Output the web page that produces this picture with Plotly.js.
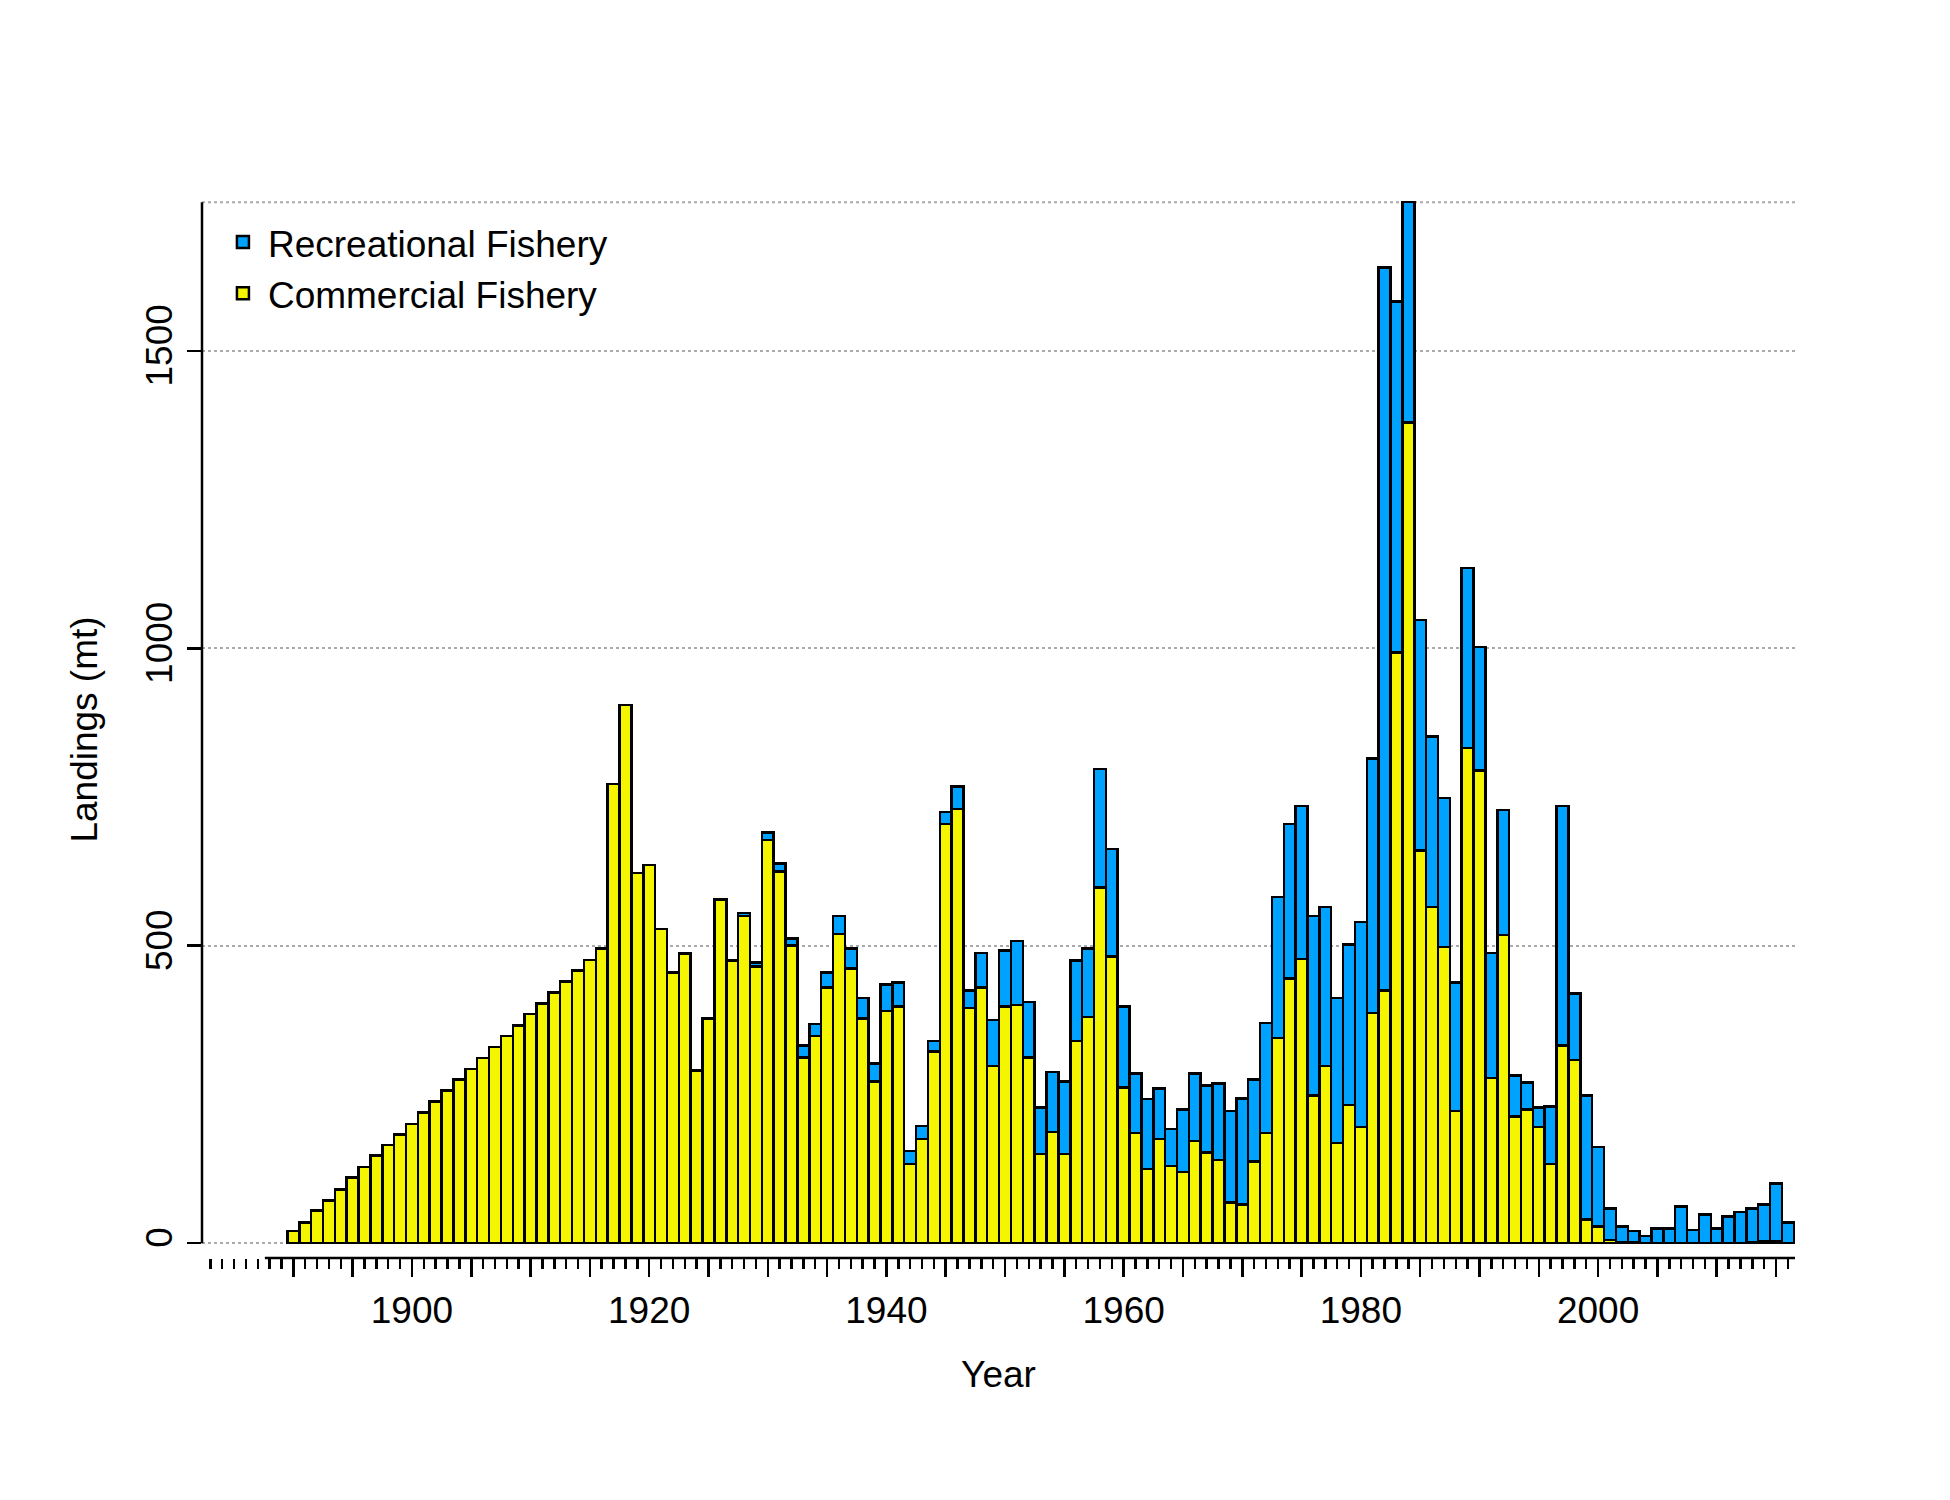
<!DOCTYPE html>
<html><head><meta charset="utf-8">
<script src="https://cdn.plot.ly/plotly-3.0.1.min.js"></script>
<style>body{margin:0;background:#fff}</style></head>
<body><div id="chart" style="width:1950px;height:1500px"></div>
<script>
const years = [];
for (let y = 1890; y <= 2016; y++) years.push(y);
const commercial = [20,35,55,72,90,110,128,147,165,183,200,220,238,257,275,293,311,330,348,366,385,403,421,440,458,476,495,
772,905,622,636,528,455,487,290,378,578,475,550,465,678,625,500,312,348,430,520,462,378,272,
390,398,133,175,322,705,730,395,430,298,398,400,312,150,187,150,340,380,598,482,
262,185,125,175,130,120,172,152,140,68,65,137,185,345,445,478,248,298,168,232,
195,387,425,993,1380,660,565,498,222,832,795,278,518,213,225,195,133,332,308,40,
28,5,2,1,0,0,0,0,0,0,0,0,0,2,3,3,0];
const total = [20,35,55,72,90,110,128,147,165,183,200,220,238,257,275,293,311,330,348,366,385,403,421,440,458,476,495,
772,905,622,636,528,455,487,290,378,578,475,555,472,690,638,512,332,368,455,550,495,412,302,
435,438,155,197,340,725,768,425,488,375,492,508,405,228,288,272,475,495,797,663,
398,285,242,260,192,225,285,265,268,222,243,275,370,582,705,735,550,565,412,502,
540,815,1640,1583,1750,1048,852,748,438,1135,1002,488,728,282,270,228,230,735,420,248,
162,58,28,20,12,25,25,62,22,48,25,45,52,58,65,100,35];
const recreational = total.map((t, i) => t - commercial[i]);
const tickYears = [];
for (let y = 1890; y <= 2015; y += 5) tickYears.push(y);
const tickLabels = tickYears.map(y => (y % 20 === 0 ? String(y) : ''));
const font = {family: 'Liberation Sans, Arial, sans-serif', color: '#000'};
const traces = [
 {type:'bar', name:'Commercial Fishery', x: years, y: commercial, width: 1,
  marker:{color:'#F5F500', line:{color:'#000', width:2.5}}, legendrank: 2},
 {type:'bar', name:'Recreational Fishery', x: years, y: recreational, width: 1,
  marker:{color:'#00A2FF', line:{color:'#000', width:2.5}}, legendrank: 1}
];
const layout = {
 width:1950, height:1500, barmode:'stack', bargap:0,
 paper_bgcolor:'#fff', plot_bgcolor:'#fff',
 margin:{l:202, r:155, t:201, b:242},
 font: Object.assign({size:37}, font),
 showlegend:true,
 legend:{x:0.01, y:0.99, xanchor:'left', yanchor:'top', traceorder:'normal',
   font:Object.assign({size:37}, font), bgcolor:'rgba(0,0,0,0)', itemwidth:40, tracegroupgap:0},
 xaxis:{range:[1882.3, 2016.6], showgrid:false, zeroline:false, showline:false,
   tickmode:'array', tickvals:tickYears, ticktext:tickLabels, ticks:'outside', ticklen:18, tickwidth:2.5,
   tickcolor:'#000', tickfont:Object.assign({size:37}, font), ticklabelstandoff: 2,
   minor:{tickmode:'linear', tick0:1888, dtick:1, ticks:'outside', ticklen:10, tickwidth:2.5, tickcolor:'#000', showgrid:false},
   title:{text:'Year', font:Object.assign({size:37}, font), standoff:30}},
 yaxis:{range:[-25, 1752], tickmode:'array', tickvals:[0,500,1000,1500], ticktext:['0','500','1000','1500'],
   tickangle:-90, ticks:'outside', ticklen:14, tickwidth:2.5, tickcolor:'#000', showline:false,
   zeroline:false, showgrid:true, gridcolor:'#aaaaaa', griddash:'dot', gridwidth:2,
   tickfont:Object.assign({size:37}, font),
   title:{text:'Landings (mt)', font:Object.assign({size:37}, font), standoff:30}},
 shapes:[
  {type:'line', xref:'x', yref:'y', x0:1882.3, x1:2016.6, y0:1750, y1:1750, line:{color:'#aaaaaa', width:2, dash:'dot'}, layer:'below'},
  {type:'line', xref:'paper', yref:'y', x0:0, x1:0, y0:0, y1:1750, line:{color:'#000', width:2.5}},
  {type:'line', xref:'x', yref:'paper', x0:1887.6, x1:2016.6, y0:0, y1:0, line:{color:'#000', width:2.5}}
 ]
};
Plotly.newPlot('chart', traces, layout, {staticPlot:true});
</script></body></html>
